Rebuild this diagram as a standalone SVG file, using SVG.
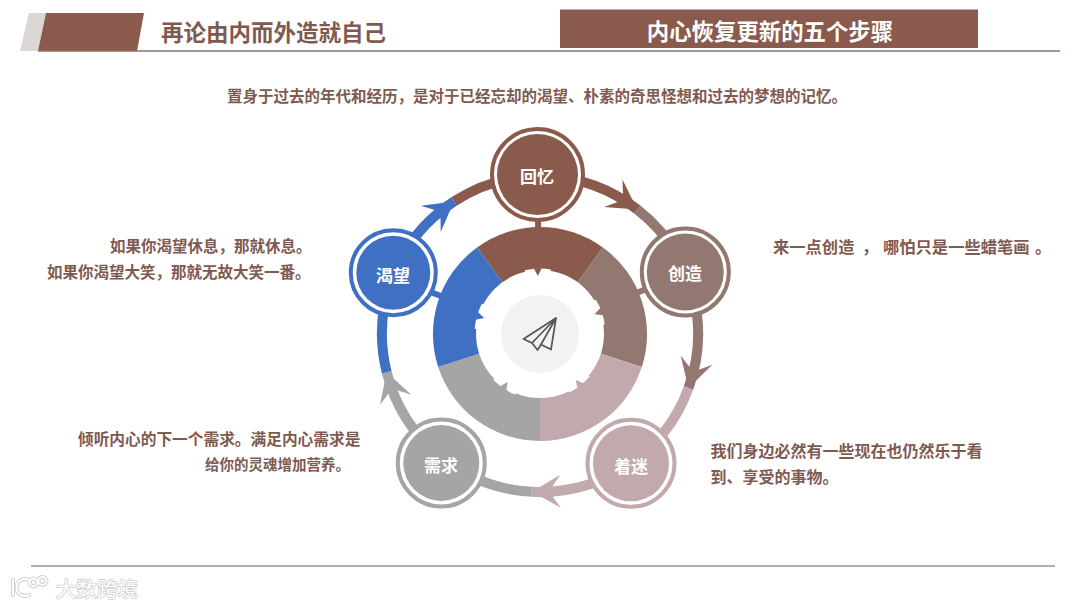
<svg xmlns="http://www.w3.org/2000/svg" width="1080" height="608" viewBox="0 0 1080 608">
<style>
text{font-family:"Noto Sans CJK SC","Liberation Sans",sans-serif;font-weight:700}
.body{fill:#7f5a50;font-size:15.5px}
.nl{fill:#fff;font-size:17px;text-anchor:middle;dominant-baseline:central}
.arc{fill:none;stroke-width:10}
.ring{fill:#fff;stroke-width:4}
.c1{fill:#8a5b4d}.c2{fill:#937771}.c3{fill:#c1a9ae}.c4{fill:#a5a5a5}.c5{fill:#4070c4}
.s1{stroke:#8a5b4d}.s2{stroke:#937771}.s3{stroke:#c1a9ae}.s4{stroke:#a5a5a5}.s5{stroke:#4070c4}
.wm{fill:#fff;stroke:#cfcfcf;stroke-width:1.600;paint-order:stroke;font-weight:400;font-size:20.5px}
</style>
<defs>
<polygon id="arrowhead" points="0,0 -29,-16.500 -17,0 -29,16.500"/>
<g id="nick"><path fill="#fff" d="M-13,-62 L-13,-64.200 A65.500,65.500 0 0 1 13,-64.200 L13,-62 Z"/><path d="M-4,-66 L4,-66 L0,-58 Z"/></g>
<line id="stem" x1="0" y1="-104" x2="0" y2="-116" stroke-width="6"/>
</defs>
<rect width="1080" height="608" fill="#fff"/>

<g id="header">
<polygon points="29,13 46,13 38,51 20,51" fill="#dcd7d5"/>
<polygon points="46,13 144,13 137,51 38,51" fill="#8a5b4d"/>
<rect x="560" y="9.500" width="418" height="38.500" fill="#8a5b4d"/>
<line x1="38" y1="51" x2="1060" y2="51" stroke="#8f6f68" stroke-width="1.600"/>
<text x="161" y="41" font-size="22.500" fill="#7f5a50">再论由内而外造就自己</text>
<text x="770" y="39.500" font-size="22.400" fill="#fff" text-anchor="middle">内心恢复更新的五个步骤</text>
</g>

<g id="captions">
<text class="body" x="227" y="101.500">置身于过去的年代和经历，是对于已经忘却的渴望、朴素的奇思怪想和过去的梦想的记忆。</text>
<text class="body" x="110" y="252">如果你渴望休息，那就休息。</text>
<text class="body" x="47" y="278">如果你渴望大笑，那就无故大笑一番。</text>
<text class="body" style="font-size:16.300px" y="253"><tspan x="773">来一点创造</tspan><tspan x="862">，</tspan><tspan x="883">哪怕只是一些蜡笔画</tspan><tspan x="1035">。</tspan></text>
<text class="body" style="font-size:15.700px" x="78" y="444.500">倾听内心的下一个需求。满足内心需求是</text>
<text class="body" style="font-size:14.500px" x="205" y="469.500">给你的灵魂增加营养。</text>
<text class="body" style="font-size:16px" x="710.500" y="456.500">我们身边必然有一些现在也仍然乐于看</text>
<text class="body" style="font-size:16px" x="710.500" y="482.500">到、享受的事物。</text>
</g>

<g id="donut">
<path class="c1" d="M540,334 L477.1,247.4 A107,107 0 0 1 602.9,247.4 Z"/>
<path class="c2" d="M540,334 L602.9,247.4 A107,107 0 0 1 641.8,367.1 Z"/>
<path class="c3" d="M540,334 L641.8,367.1 A107,107 0 0 1 540,441 Z"/>
<path class="c4" d="M540,334 L540,441 A107,107 0 0 1 438.2,367.1 Z"/>
<path class="c5" d="M540,334 L438.2,367.1 A107,107 0 0 1 477.1,247.4 Z"/>
<circle cx="540" cy="334" r="64" fill="#fff"/>
<use href="#nick" class="c1" transform="translate(540 334) rotate(-2)"/>
<use href="#nick" class="c2" transform="translate(540 334) rotate(70)"/>
<use href="#nick" class="c3" transform="translate(540 334) rotate(142)"/>
<use href="#nick" class="c4" transform="translate(540 334) rotate(214)"/>
<use href="#nick" class="c5" transform="translate(540 334) rotate(286)"/>
<circle cx="540" cy="334" r="39" fill="#f2f2f2"/>
<g fill="none" stroke="#555" stroke-width="1.700" stroke-linejoin="round">
<path d="M556,318 L523.500,339 L532,343 L537.500,350 L541,344.500 L551,349.500 Z"/>
<path d="M556,318 L532,343 M556,318 L541,344.500"/>
</g>
</g>

<g id="connectors">
<path class="arc s1" d="M454,201.500 A158,158 0 0 1 637.300,209.500"/>
<path class="arc s2" d="M637.300,209.500 A158,158 0 0 1 688.500,388"/>
<path class="arc s3" d="M688.500,388 A158,158 0 0 1 531.700,491.800"/>
<path class="arc s4" d="M531.700,491.800 A158,158 0 0 1 386.700,372.200"/>
<path class="arc s5" d="M386.700,372.200 A158,158 0 0 1 454,201.500"/>
<use href="#arrowhead" class="c1" transform="rotate(38 540 334) translate(540 176) rotate(-4)"/>
<use href="#arrowhead" class="c2" transform="rotate(110 540 334) translate(540 176) rotate(-4)"/>
<use href="#arrowhead" class="c3" transform="rotate(183 540 334) translate(540 176) rotate(-4)"/>
<use href="#arrowhead" class="c4" transform="rotate(256 540 334) translate(540 176) rotate(-4)"/>
<use href="#arrowhead" class="c5" transform="rotate(327 540 334) translate(540 176) rotate(-4)"/>
<use href="#stem" class="s1" transform="translate(540 334) rotate(-1)"/>
<use href="#stem" class="s2" transform="translate(540 334) rotate(67)"/>
<use href="#stem" class="s5" transform="translate(540 334) rotate(291)"/>
</g>

<g id="node-huiyi"><circle class="ring s1" cx="537.500" cy="174.500" r="45.500"/><circle class="c1" cx="537.500" cy="174.500" r="40.500"/><text class="nl" x="537" y="175">回忆</text></g>
<g id="node-chuangzao"><circle class="ring s2" cx="685.300" cy="272" r="43.500"/><circle class="c2" cx="685.300" cy="272" r="38.500"/><text class="nl" x="685" y="272.500">创造</text></g>
<g id="node-zhaomi"><circle class="ring s3" cx="631" cy="463.300" r="43.500"/><circle class="c3" cx="631" cy="463.300" r="38"/><text class="nl" x="631" y="465">着迷</text></g>
<g id="node-xuqiu"><circle class="ring s4" cx="441.300" cy="463" r="43.500"/><circle class="c4" cx="441.300" cy="463" r="38"/><text class="nl" x="441" y="464">需求</text></g>
<g id="node-kewang"><circle class="ring s5" cx="393.300" cy="272.700" r="42.500"/><circle class="c5" cx="393.300" cy="272.700" r="37"/><text class="nl" x="393" y="274">渴望</text></g>

<g id="footer">
<line x1="31" y1="566" x2="1055" y2="566" stroke="#a98f8c" stroke-width="1.600"/>
<g fill="none" stroke="#cfcfcf" stroke-width="4" stroke-linecap="round">
<path d="M13,580 L13,595"/><path d="M29,580 A8.500,8.500 0 1 0 29,595"/><circle cx="33.500" cy="582.500" r="4"/><circle cx="42.500" cy="581" r="4"/>
</g>
<g fill="none" stroke="#fff" stroke-width="2" stroke-linecap="round">
<path d="M13,580 L13,595"/><path d="M29,580 A8.500,8.500 0 1 0 29,595"/><circle cx="33.500" cy="582.500" r="4"/><circle cx="42.500" cy="581" r="4"/>
</g>
<text class="wm" x="56" y="597">大数跨境</text>
</g>
</svg>
